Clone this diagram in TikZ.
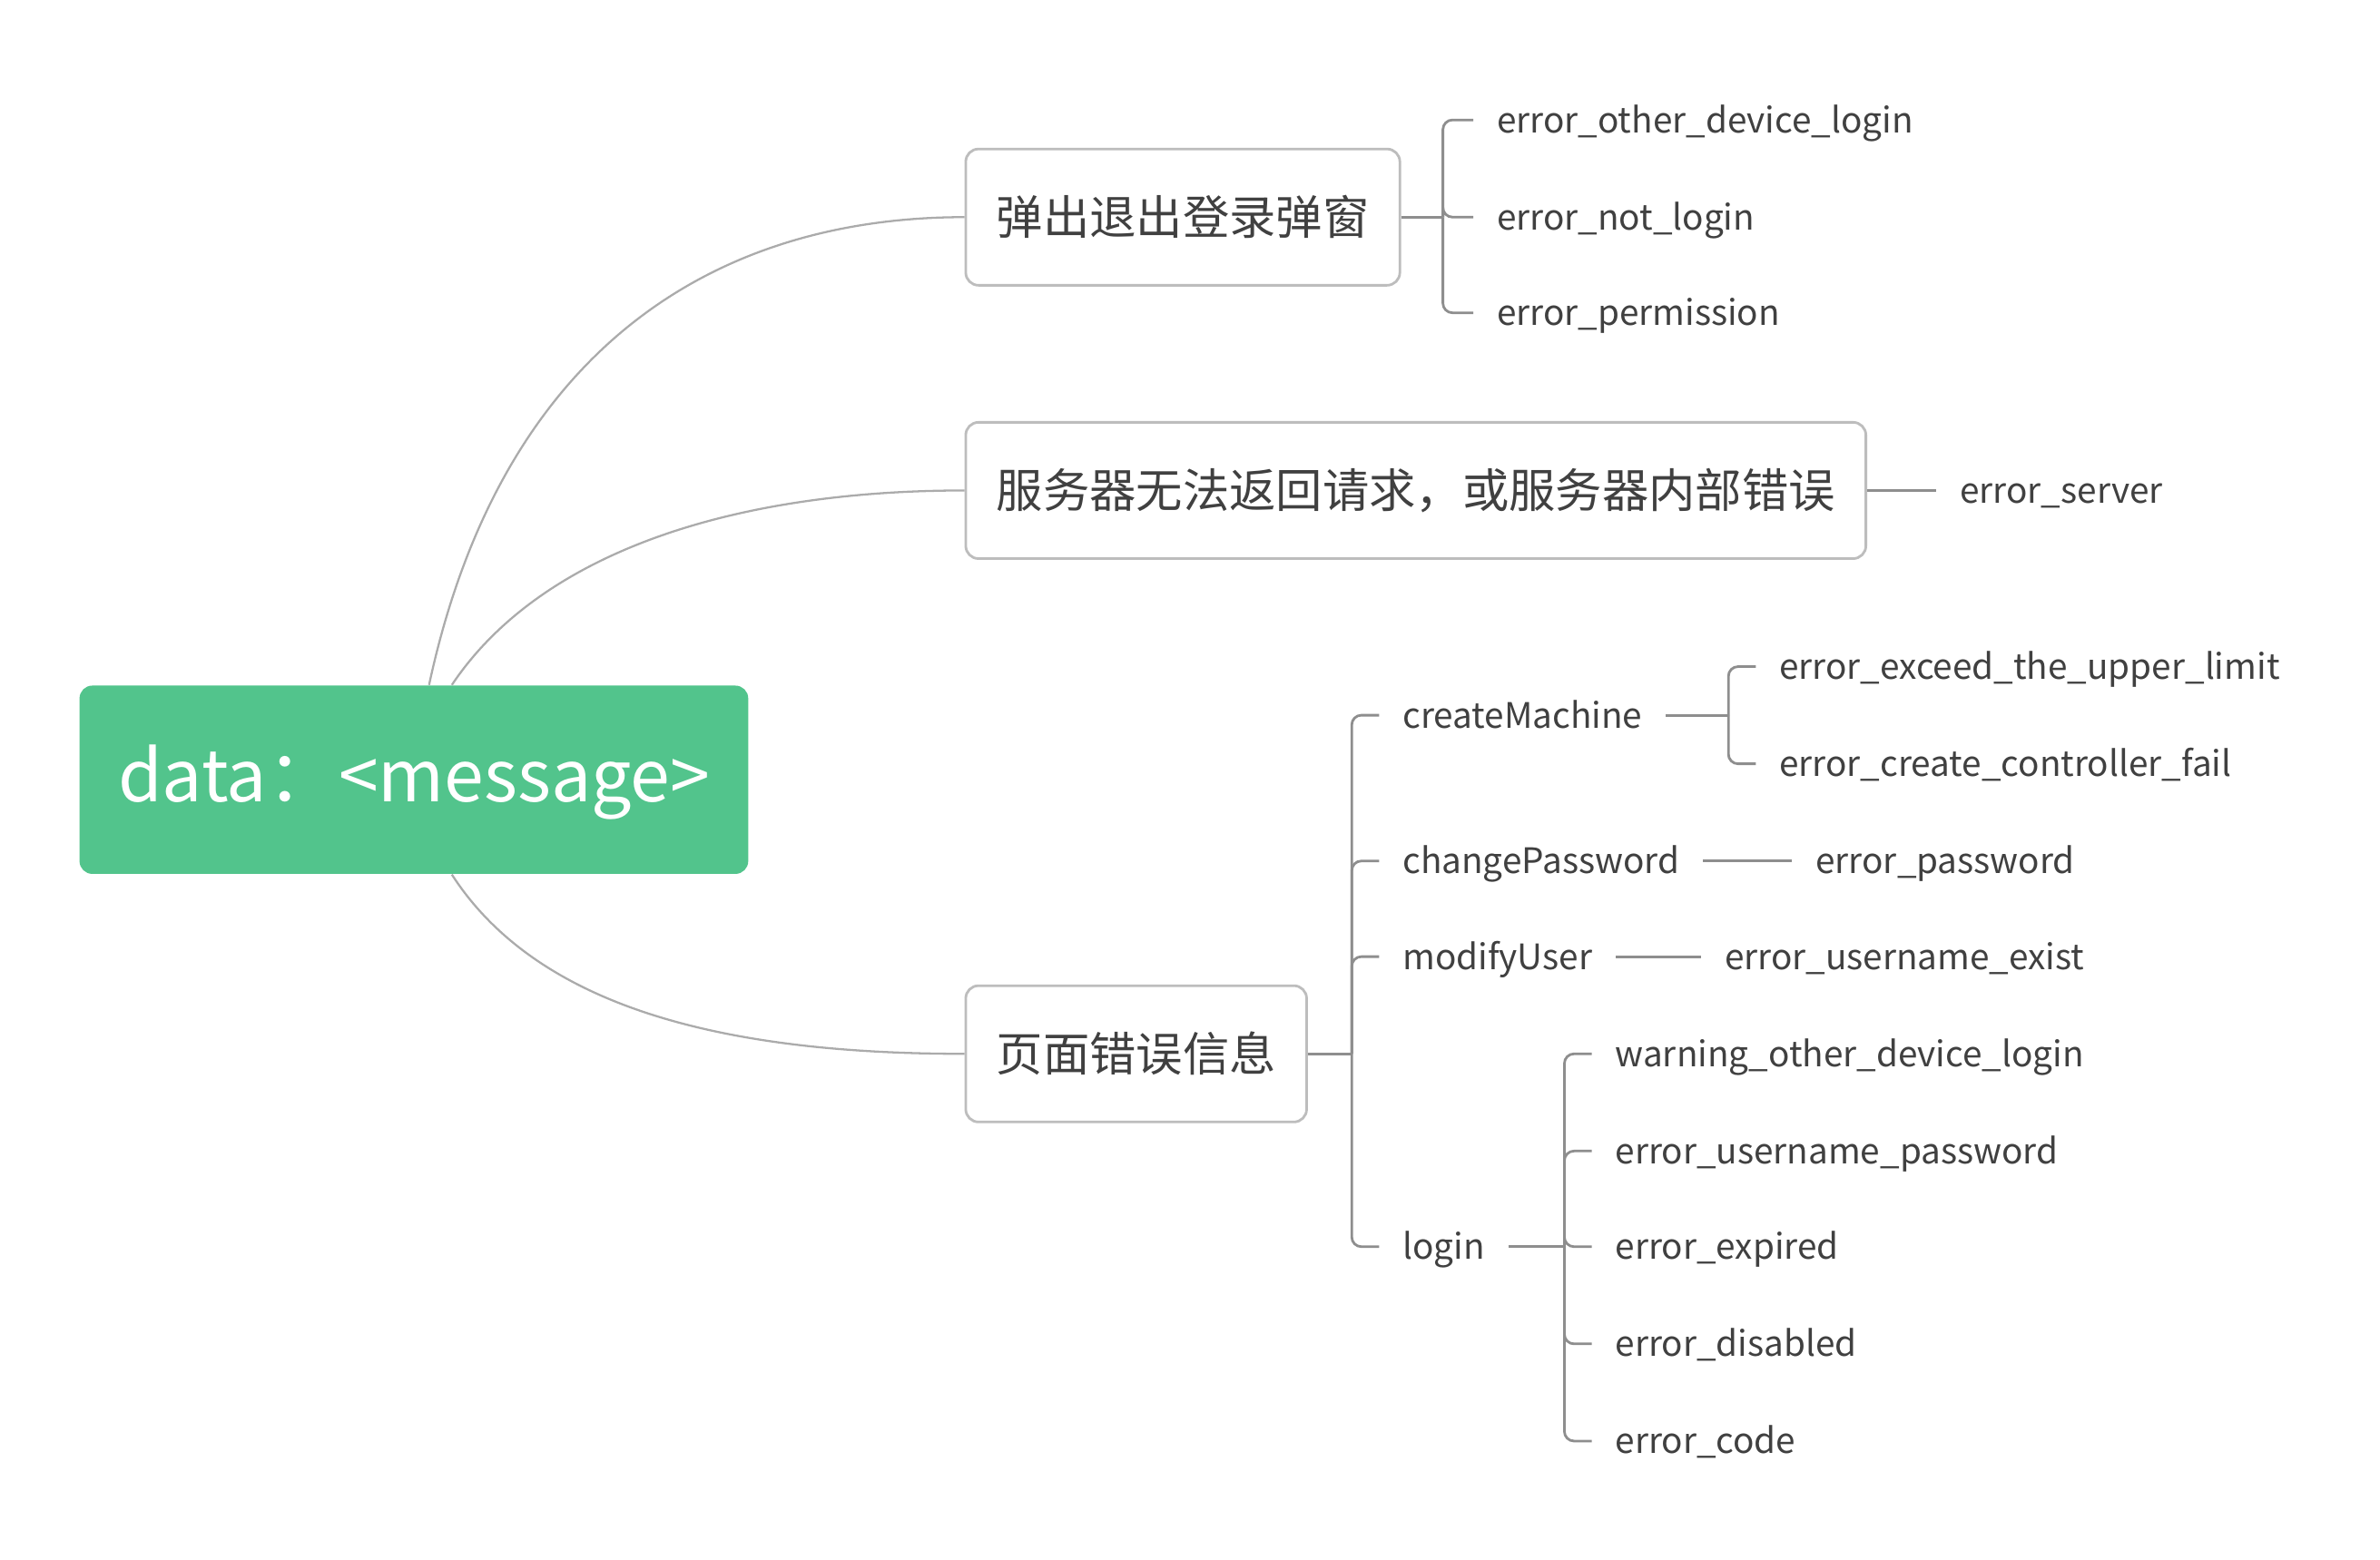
\documentclass[tikz,border=0pt]{standalone}
\usepackage{fontspec}
\setmainfont{Noto Sans CJK SC}
\usetikzlibrary{calc}
\definecolor{rootgreen}{HTML}{52C48C}
\definecolor{inkgray}{HTML}{404040}
\definecolor{boxgray}{HTML}{BDBDBD}
\definecolor{curvegray}{HTML}{ABABAB}
\definecolor{stemgray}{HTML}{8E8E8E}
\begin{document}
\begin{tikzpicture}[x=0.01673cm, y=-0.01673cm] % 1 unit = 1 px of the sketch
\tikzstyle{root} = [rectangle, rounded corners=4pt, fill=rootgreen, text=white, minimum width=209.5pt, minimum height=59pt, text height=1.4em, text depth=0em, font=\fontsize{22.4}{26}\selectfont] % central node
\tikzstyle{topic} = [rectangle, rounded corners=4pt, draw=boxgray, line width=0.8pt, text=inkgray, inner xsep=9.6pt, minimum height=42.7pt, anchor=west, font=\fontsize{14.6}{17}\selectfont] % framed branch
\tikzstyle{leaf} = [inner xsep=7.2pt, inner ysep=2pt, text height=0.8em, text depth=0em, anchor=west, text=inkgray, font=\fontsize{11}{13}\selectfont] % plain text item
\tikzstyle{curve} = [draw=curvegray, line width=0.65pt] % root to branch
\tikzstyle{stem} = [draw=stemgray, line width=0.8pt, rounded corners=3pt] % brackets

\useasboundingbox (0,0) rectangle (1567,1027.3);

% root and branches
\node[root] (main) at (272.5,513.5) {data：<message>};
\node[topic] (popup) at (635,143) {弹出退出登录弹窗};
\node[topic] (server) at (635,323) {服务器无法返回请求，或服务器内部错误};
\node[topic] (page) at (635,694) {页面错误信息};

\draw[curve] ($(main.north)+(10,0)$) .. controls (330,230) and (470,143) .. (popup.west);
\draw[curve] ($(main.north)+(25,0)$) .. controls (355,365) and (480,323) .. (server.west);
\draw[curve] ($(main.south)+(25,0)$) .. controls (355,665) and (480,694) .. (page.west);

% popup
\coordinate (bpopup) at (950,143);
\node[leaf] (otherdev) at (970,79) {error\_other\_device\_login};
\node[leaf] (notlogin) at (970,143) {error\_not\_login};
\node[leaf] (perm) at (970,206) {error\_permission};
\draw[stem] (popup.east) -- (bpopup);
\foreach \n in {otherdev, notlogin, perm}
    \draw[stem] (bpopup) |- (\n.west);

% server
\node[leaf] (srv) at (1275,323) {error\_server};
\draw[stem] (server.east) -- (srv.west);

% page
\coordinate (bpage) at (890,694);
\node[leaf] (create) at (908,471) {createMachine};
\node[leaf] (chpass) at (908,567) {changePassword};
\node[leaf] (moduser) at (908,630) {modifyUser};
\node[leaf] (login) at (908,821) {login};
\draw[stem] (page.east) -- (bpage);
\foreach \n in {create, chpass, moduser, login}
    \draw[stem] (bpage) |- (\n.west);

% createMachine
\coordinate (bcreate) at (1138,471);
\node[leaf] (exceed) at (1156,439) {error\_exceed\_the\_upper\_limit};
\node[leaf] (ctrlfail) at (1156,503) {error\_create\_controller\_fail};
\draw[stem] (create.east) -- (bcreate);
\foreach \n in {exceed, ctrlfail}
    \draw[stem] (bcreate) |- (\n.west);

% changePassword, modifyUser
\node[leaf] (pwd) at (1180,567) {error\_password};
\draw[stem] (chpass.east) -- (pwd.west);
\node[leaf] (uexist) at (1120,630) {error\_username\_exist};
\draw[stem] (moduser.east) -- (uexist.west);

% login
\coordinate (blogin) at (1030,821);
\node[leaf] (warn) at (1048,694) {warning\_other\_device\_login};
\node[leaf] (upwd) at (1048,758) {error\_username\_password};
\node[leaf] (expired) at (1048,821) {error\_expired};
\node[leaf] (disabled) at (1048,885) {error\_disabled};
\node[leaf] (code) at (1048,949) {error\_code};
\draw[stem] (login.east) -- (blogin);
\foreach \n in {warn, upwd, expired, disabled, code}
    \draw[stem] (blogin) |- (\n.west);
\end{tikzpicture}
\end{document}
